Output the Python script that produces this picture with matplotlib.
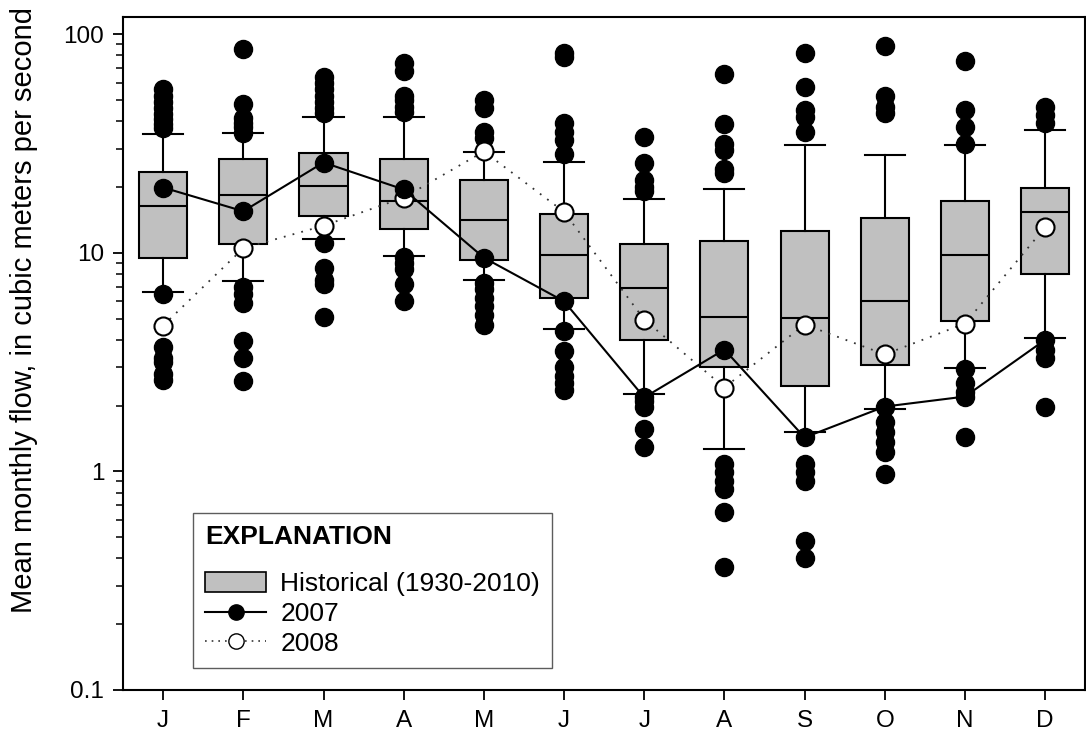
import matplotlib
matplotlib.use("Agg")
import matplotlib.pyplot as plt
from matplotlib.lines import Line2D
from matplotlib.patches import Patch
from matplotlib.ticker import FixedLocator, LogLocator, NullFormatter, FuncFormatter

plt.rcParams['font.family'] = ['Liberation Sans', 'DejaVu Sans']

months = ["J", "F", "M", "A", "M", "J", "J", "A", "S", "O", "N", "D"]

# historical monthly flow statistics, 1930-2010 (m3/s)
q1 = [9.5, 11.0, 14.7, 12.8, 9.3, 6.2, 4.0, 2.99, 2.45, 3.08, 4.9, 8.0]
med = [16.3, 18.3, 20.3, 17.3, 14.1, 9.8, 6.9, 5.1, 5.06, 6.05, 9.8, 15.3]
q3 = [23.5, 27.0, 28.5, 27.0, 21.6, 15.1, 11.0, 11.3, 12.6, 14.5, 17.3, 19.9]
whis_lo = [6.6, 7.4, 11.6, 9.7, 7.5, 4.5, 2.27, 1.27, 1.52, 1.94, 2.96, 4.06]
whis_hi = [35.1, 35.5, 42.0, 42.0, 28.8, 26.1, 17.7, 19.5, 31.0, 27.9, 31.0, 36.6]

outliers = [
    [56.4, 52, 49, 46, 43, 41, 39, 37.4, 6.5, 3.69, 3.32, 3.15, 2.78, 2.63],
    [86, 48, 41.6, 39.4, 37.5, 35.5, 7.0, 6.5, 5.9, 3.93, 3.32, 2.6],
    [64, 60, 56, 52, 49, 46, 43.5, 11.1, 8.5, 7.5, 7.2, 5.1],
    [74, 68, 52, 50, 46.6, 44, 9.6, 9.0, 8.4, 7.2, 6.0],
    [50, 46, 35.9, 33.5, 7.3, 6.8, 6.2, 5.7, 5.2, 4.7],
    [82, 79, 39.4, 35.9, 33, 28.2, 4.37, 3.54, 2.99, 2.72, 2.55, 2.37],
    [34, 25.9, 21.6, 20.1, 19.1, 2.1, 1.98, 1.56, 1.29],
    [66, 39, 31.5, 29.5, 24.2, 23.2, 1.08, 0.995, 0.90, 0.83, 0.65, 0.364],
    [82, 57.6, 45.2, 42, 35.9, 1.08, 0.99, 0.90, 0.479, 0.40],
    [88.7, 52, 46.6, 43.8, 1.69, 1.51, 1.36, 1.23, 0.97],
    [75.7, 45.2, 37.8, 31.6, 2.93, 2.55, 2.30, 1.43],
    [46.6, 42.9, 39.4, 3.61, 3.32, 1.98],
]

flow_2007 = [19.9, 15.5, 25.9, 19.5, 9.5, 6.0, 2.18, 3.61, 1.43, 1.98, 2.2, 4.0]
flow_2008 = [4.65, 10.5, 13.3, 17.9, 29.1, 15.4, 4.95, 2.42, 4.70, 3.43, 4.75, 13.1]

stats = []
for i in range(len(months)):
    stats.append({
        "q1": q1[i], "med": med[i], "q3": q3[i],
        "whislo": whis_lo[i], "whishi": whis_hi[i],
        "fliers": outliers[i],
    })

fig = plt.figure(figsize=(10.86, 7.44), dpi=100)
ax = fig.add_axes([0.1133, 0.0726, 0.886, 0.9046])

pos = list(range(1, len(months) + 1))
lw = 1.5
ax.bxp(stats, positions=pos, widths=0.6, capwidths=0.5, patch_artist=True,
       showfliers=True,
       boxprops=dict(facecolor="#c0c0c0", edgecolor="black", linewidth=lw),
       medianprops=dict(color="black", linewidth=lw),
       whiskerprops=dict(color="black", linewidth=lw),
       capprops=dict(color="black", linewidth=lw),
       flierprops=dict(marker="o", markerfacecolor="black", markeredgecolor="black",
                       markersize=13, linestyle="none"))

ax.plot(pos, flow_2008, color="#333333", linestyle=(0, (1, 4)), linewidth=1.3,
        marker="o", markersize=13, markerfacecolor="white", markeredgecolor="black",
        markeredgewidth=1.5, zorder=5)
ax.plot(pos, flow_2007, color="black", linestyle="-", linewidth=1.5,
        marker="o", markersize=13, markerfacecolor="black", markeredgecolor="black",
        zorder=6)

ax.set_yscale("log")
ax.set_ylim(0.1, 120)
ax.set_xlim(0.5, 12.5)
ax.yaxis.set_major_locator(FixedLocator([0.1, 1, 10, 100]))
ax.yaxis.set_major_formatter(FuncFormatter(lambda v, p: f"{v:g}"))
ax.yaxis.set_minor_locator(LogLocator(base=10, subs=range(2, 10)))
ax.yaxis.set_minor_formatter(NullFormatter())
ax.set_xticks(pos)
ax.set_xticklabels(months)
ax.tick_params(axis="both", which="major", direction="out", length=7.5, width=1.3,
               labelsize=17.5)
ax.tick_params(axis="x", which="major", pad=7)
ax.tick_params(axis="y", which="major", pad=6)
ax.tick_params(axis="y", which="minor", direction="out", length=5, width=1.1)
for sp in ax.spines.values():
    sp.set_linewidth(1.5)

ax.set_ylabel("Mean monthly flow, in cubic meters per second", fontsize=21)
ax.yaxis.set_label_coords(-0.088, 0.565)

handles = [
    Patch(facecolor="#c0c0c0", edgecolor="black", linewidth=1.2),
    Line2D([], [], color="black", linewidth=1.5, marker="o", markersize=11,
           markerfacecolor="black"),
    Line2D([], [], color="#333333", linestyle=(0, (1, 3)), linewidth=1.2, marker="o",
           markersize=11, markerfacecolor="white", markeredgecolor="black"),
]
labels = ["Historical (1930-2010)", "2007", "2008"]
leg = ax.legend(handles, labels, loc="lower left", bbox_to_anchor=(0.073, 0.033),
                borderaxespad=0.0,
                title="EXPLANATION", title_fontproperties={"weight": "bold", "size": 19},
                alignment="left", fontsize=19, frameon=True, fancybox=False,
                edgecolor="#333333", handlelength=2.3, handleheight=0.75,
                handletextpad=0.55, labelspacing=0.22, borderpad=0.45)
# extra room between the title and the entries
leg._legend_box.sep = 17
leg.get_frame().set_linewidth(1.0)
leg.set_zorder(10)

fig.savefig("out.png", dpi=100)
